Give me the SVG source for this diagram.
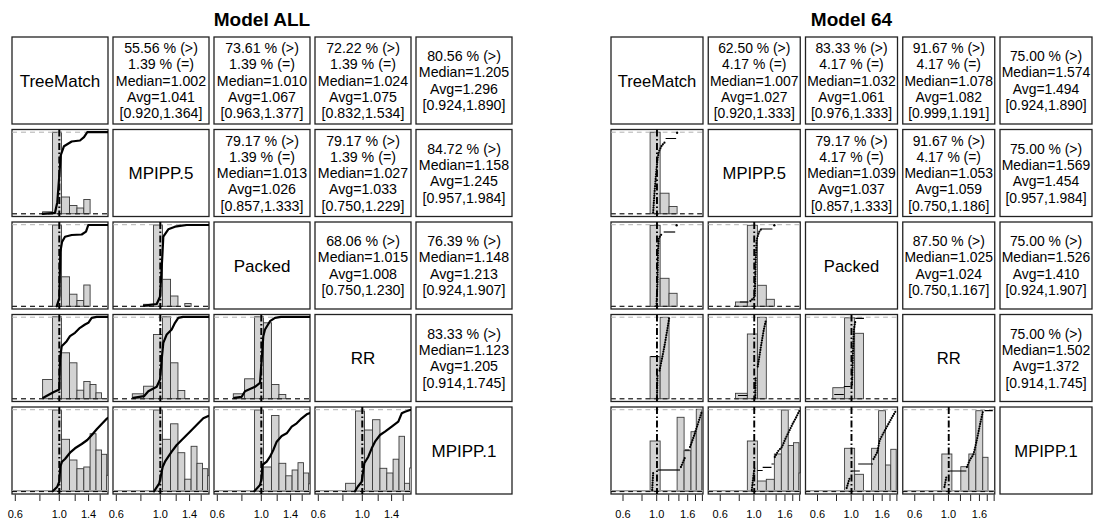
<svg xmlns="http://www.w3.org/2000/svg" width="1112" height="521" viewBox="0 0 1112 521">
<defs>
<clipPath id="cc"><rect x="0" y="0" width="96" height="87"/></clipPath>
</defs>
<style>
text{font-family:"Liberation Sans",Arial,Helvetica,sans-serif;fill:#000}
.title{font-size:19px;font-weight:bold;text-anchor:middle}
.lab{font-size:17px;text-anchor:middle}
.lab2{font-size:16.6px;text-anchor:middle}
.st{font-size:14.2px;text-anchor:middle}
.st2{font-size:13.9px;text-anchor:middle}
.ax{font-size:11px;text-anchor:middle}
.box{fill:#fff;stroke:#222;stroke-width:1.3}
.bar{fill:#d3d3d3;stroke:#3a3a3a;stroke-width:0.9}
.gl{stroke:#b0b0b0;stroke-width:1;stroke-dasharray:5 4;fill:none}
.bl{stroke:#000;stroke-width:1;stroke-dasharray:5 4;fill:none}
.r5{stroke:#999;stroke-width:1.6;fill:none}
.ref{stroke:#000;stroke-width:2;stroke-dasharray:7 2.5 1.5 2.5;fill:none}
.ecdf{fill:none;stroke:#000;stroke-width:2.2;stroke-linejoin:round;stroke-linecap:round}
.dots{fill:none;stroke:#000;stroke-width:2.3;stroke-dasharray:0 2.4;stroke-linecap:round}
.seg{fill:none;stroke:#000;stroke-width:1.2}
.tk{stroke:#222;stroke-width:1}
</style>
<rect width="1112" height="521" fill="#fff"/>
<text class="title" x="262" y="26">Model ALL</text>
<text class="title" x="851.5" y="26">Model 64</text>

<!-- ===== LEFT PANEL ===== -->
<g id="L11" transform="translate(12,37)"><rect class="box" width="96" height="87"/><text class="lab" x="48" y="49.6">TreeMatch</text></g>
<g id="L12" transform="translate(113,37)"><rect class="box" width="96" height="87"/><text class="st" x="48" y="16"><tspan x="48">55.56 % (&gt;)</tspan><tspan x="48" dy="16.3">1.39 % (=)</tspan><tspan x="48" dy="16.3">Median=1.002</tspan><tspan x="48" dy="16.3">Avg=1.041</tspan><tspan x="48" dy="16.3">[0.920,1.364]</tspan></text></g>
<g id="L13" transform="translate(214,37)"><rect class="box" width="96" height="87"/><text class="st" x="48" y="16"><tspan x="48">73.61 % (&gt;)</tspan><tspan x="48" dy="16.3">1.39 % (=)</tspan><tspan x="48" dy="16.3">Median=1.010</tspan><tspan x="48" dy="16.3">Avg=1.067</tspan><tspan x="48" dy="16.3">[0.963,1.377]</tspan></text></g>
<g id="L14" transform="translate(315,37)"><rect class="box" width="96" height="87"/><text class="st" x="48" y="16"><tspan x="48">72.22 % (&gt;)</tspan><tspan x="48" dy="16.3">1.39 % (=)</tspan><tspan x="48" dy="16.3">Median=1.024</tspan><tspan x="48" dy="16.3">Avg=1.075</tspan><tspan x="48" dy="16.3">[0.832,1.534]</tspan></text></g>
<g id="L15" transform="translate(416,37)"><rect class="box" width="96" height="87"/><text class="st" x="48" y="24.1"><tspan x="48">80.56 % (&gt;)</tspan><tspan x="48" dy="16.3">Median=1.205</tspan><tspan x="48" dy="16.3">Avg=1.296</tspan><tspan x="48" dy="16.3">[0.924,1.890]</tspan></text></g>

<g id="L21" transform="translate(12,129.5)"><rect class="box" width="96" height="87"/>
<g clip-path="url(#cc)">
<rect class="bar" x="30.6" y="82.3" width="9.9" height="2"/><rect class="bar" x="40.5" y="2.7" width="8.95" height="81.6"/><rect class="bar" x="49.45" y="67.5" width="8.1" height="16.8"/><rect class="bar" x="57.55" y="76" width="7.4" height="8.3"/><rect class="bar" x="64.95" y="78.5" width="6.85" height="5.8"/><rect class="bar" x="71.8" y="70" width="6.3" height="14.3"/>
<path class="gl" d="M0,2.7H96M0,84.3H96"/><path class="bl" d="M0,84.3H96"/>
<path class="ref" d="M47.3,0V87"/>
<path class="ecdf" d="M30.7,84.3L43,83.3L45.3,72.7L47.3,46L48.7,26L52,16.7L59.7,12L68,11L72,7.7L75.3,2.7L96,2.7"/>
</g></g>
<g id="L22" transform="translate(113,129.5)"><rect class="box" width="96" height="87"/><text class="lab" x="48" y="49.6">MPIPP.5</text></g>
<g id="L23" transform="translate(214,129.5)"><rect class="box" width="96" height="87"/><text class="st" x="48" y="16"><tspan x="48">79.17 % (&gt;)</tspan><tspan x="48" dy="16.3">1.39 % (=)</tspan><tspan x="48" dy="16.3">Median=1.013</tspan><tspan x="48" dy="16.3">Avg=1.026</tspan><tspan x="48" dy="16.3">[0.857,1.333]</tspan></text></g>
<g id="L24" transform="translate(315,129.5)"><rect class="box" width="96" height="87"/><text class="st" x="48" y="16"><tspan x="48">79.17 % (&gt;)</tspan><tspan x="48" dy="16.3">1.39 % (=)</tspan><tspan x="48" dy="16.3">Median=1.027</tspan><tspan x="48" dy="16.3">Avg=1.033</tspan><tspan x="48" dy="16.3">[0.750,1.229]</tspan></text></g>
<g id="L25" transform="translate(416,129.5)"><rect class="box" width="96" height="87"/><text class="st" x="48" y="24.1"><tspan x="48">84.72 % (&gt;)</tspan><tspan x="48" dy="16.3">Median=1.158</tspan><tspan x="48" dy="16.3">Avg=1.245</tspan><tspan x="48" dy="16.3">[0.957,1.984]</tspan></text></g>

<g id="L31" transform="translate(12,222)"><rect class="box" width="96" height="87"/>
<g clip-path="url(#cc)">
<rect class="bar" x="40.5" y="3" width="8.95" height="81.3"/><rect class="bar" x="49.45" y="54.8" width="8.1" height="29.5"/><rect class="bar" x="57.55" y="72.2" width="7.4" height="12.1"/><rect class="bar" x="64.95" y="78.5" width="6.85" height="5.8"/><rect class="bar" x="71.8" y="63" width="6.3" height="21.3"/>
<path class="gl" d="M0,2.7H96M0,84.3H96"/><path class="bl" d="M0,84.3H96"/>
<path class="ref" d="M47.3,0V87"/>
<path class="ecdf" d="M44.7,84.3L47.3,76L48.3,30L50,20L53,14.7L59.7,13L69.7,12.5L74,9.7L76.3,3L96,3"/>
</g></g>
<g id="L32" transform="translate(113,222)"><rect class="box" width="96" height="87"/>
<g clip-path="url(#cc)">
<rect class="bar" x="30.6" y="82.3" width="9.9" height="2"/><rect class="bar" x="40.5" y="3" width="8.95" height="81.3"/><rect class="bar" x="49.45" y="57.3" width="8.1" height="27"/><rect class="bar" x="57.55" y="74" width="7.4" height="10.3"/><rect class="bar" x="71.8" y="81.5" width="6.3" height="2.8"/>
<path class="gl" d="M0,2.7H96M0,84.3H96"/><path class="bl" d="M0,84.3H96"/>
<path class="ref" d="M47.3,0V87"/>
<path class="ecdf" d="M31,83.7L43.7,82L47,74.7L49.3,34.7L50.3,14.7L55.3,7.3L62,4.7L68.7,3.7L73.7,3L96,3"/>
</g></g>
<g id="L33" transform="translate(214,222)"><rect class="box" width="96" height="87"/><text class="lab" x="48" y="49.6">Packed</text></g>
<g id="L34" transform="translate(315,222)"><rect class="box" width="96" height="87"/><text class="st" x="48" y="24.1"><tspan x="48">68.06 % (&gt;)</tspan><tspan x="48" dy="16.3">Median=1.015</tspan><tspan x="48" dy="16.3">Avg=1.008</tspan><tspan x="48" dy="16.3">[0.750,1.230]</tspan></text></g>
<g id="L35" transform="translate(416,222)"><rect class="box" width="96" height="87"/><text class="st" x="48" y="24.1"><tspan x="48">76.39 % (&gt;)</tspan><tspan x="48" dy="16.3">Median=1.148</tspan><tspan x="48" dy="16.3">Avg=1.213</tspan><tspan x="48" dy="16.3">[0.924,1.907]</tspan></text></g>

<g id="L41" transform="translate(12,314.5)"><rect class="box" width="96" height="87"/>
<g clip-path="url(#cc)">
<rect class="bar" x="30.6" y="65" width="9.9" height="19.3"/><rect class="bar" x="40.5" y="2.3" width="8.95" height="82"/><rect class="bar" x="49.45" y="38.3" width="8.1" height="46"/><rect class="bar" x="57.55" y="48.3" width="7.4" height="36"/><rect class="bar" x="64.95" y="75.7" width="6.85" height="8.6"/><rect class="bar" x="71.8" y="67" width="6.3" height="17.3"/><rect class="bar" x="78.1" y="70" width="5.9" height="14.3"/><rect class="bar" x="84" y="78.3" width="5.5" height="6"/>
<path class="gl" d="M0,2.7H96M0,84.3H96"/><path class="bl" d="M0,84.3H96"/>
<path class="ref" d="M47.3,0V87"/>
<path class="ecdf" d="M31.3,83.3L41.3,77.7L47.3,75L48,45L49.7,31.7L54.7,26.7L58,21.7L63,18.3L68,13.3L73,10L76.3,8.3L79.7,3.3L84.7,2.3L96,2.3"/>
</g></g>
<g id="L42" transform="translate(113,314.5)"><rect class="box" width="96" height="87"/>
<g clip-path="url(#cc)">
<rect class="bar" x="19.3" y="79.3" width="11.3" height="5"/><rect class="bar" x="30.6" y="71.7" width="9.9" height="12.6"/><rect class="bar" x="40.5" y="20" width="8.95" height="64.3"/><rect class="bar" x="49.45" y="2.3" width="8.1" height="82"/><rect class="bar" x="57.55" y="48.3" width="7.4" height="36"/><rect class="bar" x="64.95" y="76" width="6.85" height="8.3"/>
<path class="gl" d="M0,2.7H96M0,84.3H96"/><path class="bl" d="M0,84.3H96"/>
<path class="ref" d="M47.3,0V87"/>
<path class="ecdf" d="M20.3,83.3L31,81.7L35.3,76.7L43.7,72.3L47,65L48.7,45L50.3,28.3L53.7,20L58.7,15L62,8.3L65.3,3.3L70,2.3L96,2.3"/>
</g></g>
<g id="L43" transform="translate(214,314.5)"><rect class="box" width="96" height="87"/>
<g clip-path="url(#cc)">
<rect class="bar" x="19.3" y="79.3" width="11.3" height="5"/><rect class="bar" x="30.6" y="64.3" width="9.9" height="20"/><rect class="bar" x="40.5" y="2.3" width="8.95" height="82"/><rect class="bar" x="49.45" y="8.3" width="8.1" height="76"/><rect class="bar" x="57.55" y="70" width="7.4" height="14.3"/><rect class="bar" x="64.95" y="80" width="6.85" height="4.3"/>
<path class="gl" d="M0,2.7H96M0,84.3H96"/><path class="bl" d="M0,84.3H96"/>
<path class="ref" d="M47.3,0V87"/>
<path class="ecdf" d="M20.3,83.3L27.7,82.3L31,76.7L41,72.3L46,68.3L47.7,45L49.3,21.7L51,15L56,6.7L61,3.3L67,2.3L96,2.3"/>
</g></g>
<g id="L44" transform="translate(315,314.5)"><rect class="box" width="96" height="87"/><text class="lab" x="48" y="49.6">RR</text></g>
<g id="L45" transform="translate(416,314.5)"><rect class="box" width="96" height="87"/><text class="st" x="48" y="24.1"><tspan x="48">83.33 % (&gt;)</tspan><tspan x="48" dy="16.3">Median=1.123</tspan><tspan x="48" dy="16.3">Avg=1.205</tspan><tspan x="48" dy="16.3">[0.914,1.745]</tspan></text></g>

<g id="L51" transform="translate(12,407)"><rect class="box" width="96" height="87"/>
<g clip-path="url(#cc)">
<rect class="bar" x="40.5" y="3" width="8.95" height="81.3"/><rect class="bar" x="49.45" y="32.3" width="8.1" height="52"/><rect class="bar" x="57.55" y="53" width="7.4" height="31.3"/><rect class="bar" x="64.95" y="61.7" width="6.85" height="22.6"/><rect class="bar" x="71.8" y="60" width="6.3" height="24.3"/><rect class="bar" x="78.1" y="26.7" width="5.9" height="57.6"/><rect class="bar" x="84" y="43" width="5.5" height="41.3"/><rect class="bar" x="89.5" y="47.3" width="5.2" height="37"/><rect class="bar" x="94.7" y="68.3" width="4.9" height="16"/>
<path class="gl" d="M0,2.7H96"/><path class="r5" d="M0,83.8H96"/><path class="bl" d="M0,84.6H96"/>
<path class="ref" d="M47.3,0V87"/>
<path class="ecdf" d="M40.7,84.3L45.3,79.7L47.3,74.7L48.3,59.7L50,54.7L53,52L58,45.7L63,41.3L69.7,37L75.3,33L80.7,27L84.7,22.3L89.7,17L94.7,11.7L96,11"/>
</g></g>
<g id="L52" transform="translate(113,407)"><rect class="box" width="96" height="87"/>
<g clip-path="url(#cc)">
<rect class="bar" x="40.5" y="3" width="8.95" height="81.3"/><rect class="bar" x="49.45" y="32.3" width="8.1" height="52"/><rect class="bar" x="57.55" y="16.8" width="7.4" height="67.5"/><rect class="bar" x="64.95" y="45.7" width="6.85" height="38.6"/><rect class="bar" x="71.8" y="72.2" width="6.3" height="12.1"/><rect class="bar" x="78.1" y="39.3" width="5.9" height="45"/><rect class="bar" x="84" y="56.3" width="5.5" height="28"/><rect class="bar" x="89.5" y="61.7" width="5.2" height="22.6"/><rect class="bar" x="94.7" y="68.7" width="4.9" height="15.6"/>
<path class="gl" d="M0,2.7H96"/><path class="r5" d="M0,83.8H96"/><path class="bl" d="M0,84.6H96"/>
<path class="ref" d="M47.3,0V87"/>
<path class="ecdf" d="M41,84.3L46.3,76.3L47.7,69.7L49.7,59.7L52,54.7L55.3,49.7L58.7,44.7L63.7,38L68.7,33L73.7,28L78.7,23L85.3,16.3L90.3,11.3L95.3,9L96,8.8"/>
</g></g>
<g id="L53" transform="translate(214,407)"><rect class="box" width="96" height="87"/>
<g clip-path="url(#cc)">
<rect class="bar" x="40.5" y="3" width="8.95" height="81.3"/><rect class="bar" x="49.45" y="60" width="8.1" height="24.3"/><rect class="bar" x="57.55" y="8.5" width="7.4" height="75.8"/><rect class="bar" x="64.95" y="56.3" width="6.85" height="28"/><rect class="bar" x="71.8" y="68.8" width="6.3" height="15.5"/><rect class="bar" x="78.1" y="63" width="5.9" height="21.3"/><rect class="bar" x="84" y="55.7" width="5.5" height="28.6"/><rect class="bar" x="89.5" y="66" width="5.2" height="18.3"/><rect class="bar" x="94.7" y="76.8" width="4.9" height="7.5"/>
<path class="gl" d="M0,2.7H96"/><path class="r5" d="M0,83.8H96"/><path class="bl" d="M0,84.6H96"/>
<path class="ref" d="M47.3,0V87"/>
<path class="ecdf" d="M40.3,84.3L46,78L47.7,71.3L48.3,58L52.7,54.7L56,49.7L59.3,43L62.7,34.7L67.7,29L72.7,26.3L77.7,19.7L82.7,16.3L87.7,11.3L92.7,7.3L96,6"/>
</g></g>
<g id="L54" transform="translate(315,407)"><rect class="box" width="96" height="87"/>
<g clip-path="url(#cc)">
<rect class="bar" x="30.6" y="76.3" width="9.9" height="8"/><rect class="bar" x="40.5" y="4" width="8.95" height="80.3"/><rect class="bar" x="49.45" y="23" width="8.1" height="61.3"/><rect class="bar" x="57.55" y="12.7" width="7.4" height="71.6"/><rect class="bar" x="64.95" y="61.3" width="6.85" height="23"/><rect class="bar" x="71.8" y="66" width="6.3" height="18.3"/><rect class="bar" x="78.1" y="52.2" width="5.9" height="32.1"/><rect class="bar" x="84" y="29.3" width="5.5" height="55"/><rect class="bar" x="89.5" y="76.3" width="5.2" height="8"/><rect class="bar" x="94.7" y="61" width="4.9" height="23.3"/>
<path class="gl" d="M0,2.7H96"/><path class="r5" d="M0,83.8H96"/><path class="bl" d="M0,84.6H96"/>
<path class="ref" d="M47.3,0V87"/>
<path class="ecdf" d="M40,84.3L42.7,79.7L46.7,74.7L49.3,56.3L53.3,49.7L56.7,41.3L60,34.7L65,28L70,24.7L76.7,19.7L83.3,14.7L86.7,6.3L90,4.7L95,3L96,3"/>
</g></g>
<g id="L55" transform="translate(416,407)"><rect class="box" width="96" height="87"/><text class="lab" x="48" y="49.6">MPIPP.1</text></g>

<!-- ===== RIGHT PANEL ===== -->
<g id="R11" transform="translate(611,37)"><rect class="box" width="92" height="87"/><text class="lab2" x="46" y="49.6">TreeMatch</text></g>
<g id="R12" transform="translate(708.25,37)"><rect class="box" width="92" height="87"/><text class="st2" x="46" y="16"><tspan x="46">62.50 % (&gt;)</tspan><tspan x="46" dy="16.3">4.17 % (=)</tspan><tspan x="46" dy="16.3">Median=1.007</tspan><tspan x="46" dy="16.3">Avg=1.027</tspan><tspan x="46" dy="16.3">[0.920,1.333]</tspan></text></g>
<g id="R13" transform="translate(805.5,37)"><rect class="box" width="92" height="87"/><text class="st2" x="46" y="16"><tspan x="46">83.33 % (&gt;)</tspan><tspan x="46" dy="16.3">4.17 % (=)</tspan><tspan x="46" dy="16.3">Median=1.032</tspan><tspan x="46" dy="16.3">Avg=1.061</tspan><tspan x="46" dy="16.3">[0.976,1.333]</tspan></text></g>
<g id="R14" transform="translate(902.75,37)"><rect class="box" width="92" height="87"/><text class="st2" x="46" y="16"><tspan x="46">91.67 % (&gt;)</tspan><tspan x="46" dy="16.3">4.17 % (=)</tspan><tspan x="46" dy="16.3">Median=1.078</tspan><tspan x="46" dy="16.3">Avg=1.082</tspan><tspan x="46" dy="16.3">[0.999,1.191]</tspan></text></g>
<g id="R15" transform="translate(1000,37)"><rect class="box" width="92" height="87"/><text class="st2" x="46" y="24.1"><tspan x="46">75.00 % (&gt;)</tspan><tspan x="46" dy="16.3">Median=1.574</tspan><tspan x="46" dy="16.3">Avg=1.494</tspan><tspan x="46" dy="16.3">[0.924,1.890]</tspan></text></g>

<g id="R21" transform="translate(611,129.5)"><rect class="box" width="92" height="87"/>
<g transform="scale(0.958,1)"><g clip-path="url(#cc)">
<rect class="bar" x="40.8" y="2.7" width="10.5" height="81.6"/><rect class="bar" x="51.3" y="63.7" width="9.3" height="20.6"/><rect class="bar" x="60.6" y="77" width="8.4" height="7.3"/>
<path class="gl" d="M0,2.7H96M0,84.3H96"/><path class="bl" d="M0,84.3H96"/>
<path class="ref" d="M48,0V87"/>
<path class="dots" d="M44,83L45.5,62L47,45L48.5,30L50,22L53,16L57,12"/><path class="seg" d="M57,9H68"/><circle cx="69" cy="3.3" r="1.2"/>
</g></g></g>
<g id="R22" transform="translate(708.25,129.5)"><rect class="box" width="92" height="87"/><text class="lab2" x="46" y="49.6">MPIPP.5</text></g>
<g id="R23" transform="translate(805.5,129.5)"><rect class="box" width="92" height="87"/><text class="st2" x="46" y="16"><tspan x="46">79.17 % (&gt;)</tspan><tspan x="46" dy="16.3">4.17 % (=)</tspan><tspan x="46" dy="16.3">Median=1.039</tspan><tspan x="46" dy="16.3">Avg=1.037</tspan><tspan x="46" dy="16.3">[0.857,1.333]</tspan></text></g>
<g id="R24" transform="translate(902.75,129.5)"><rect class="box" width="92" height="87"/><text class="st2" x="46" y="16"><tspan x="46">91.67 % (&gt;)</tspan><tspan x="46" dy="16.3">4.17 % (=)</tspan><tspan x="46" dy="16.3">Median=1.053</tspan><tspan x="46" dy="16.3">Avg=1.059</tspan><tspan x="46" dy="16.3">[0.750,1.186]</tspan></text></g>
<g id="R25" transform="translate(1000,129.5)"><rect class="box" width="92" height="87"/><text class="st2" x="46" y="24.1"><tspan x="46">75.00 % (&gt;)</tspan><tspan x="46" dy="16.3">Median=1.569</tspan><tspan x="46" dy="16.3">Avg=1.454</tspan><tspan x="46" dy="16.3">[0.957,1.984]</tspan></text></g>

<g id="R31" transform="translate(611,222)"><rect class="box" width="92" height="87"/>
<g transform="scale(0.958,1)"><g clip-path="url(#cc)">
<rect class="bar" x="40.8" y="3.3" width="10.5" height="81"/><rect class="bar" x="51.3" y="56.3" width="9.3" height="28"/><rect class="bar" x="60.6" y="71.3" width="8.4" height="13"/>
<path class="gl" d="M0,2.7H96M0,84.3H96"/><path class="bl" d="M0,84.3H96"/>
<path class="ref" d="M48,0V87"/>
<path class="dots" d="M47.5,84L48.5,60L49,30L50,16L53,12"/><path class="seg" d="M55,10H67"/><circle cx="68.5" cy="3.3" r="1.2"/>
</g></g></g>
<g id="R32" transform="translate(708.25,222)"><rect class="box" width="92" height="87"/>
<g transform="scale(0.958,1)"><g clip-path="url(#cc)">
<rect class="bar" x="28.5" y="80" width="12.3" height="4.3"/><rect class="bar" x="40.8" y="3.3" width="10.5" height="81"/><rect class="bar" x="51.3" y="63.3" width="9.3" height="21"/><rect class="bar" x="60.6" y="77.3" width="8.4" height="7"/>
<path class="gl" d="M0,2.7H96M0,84.3H96"/><path class="bl" d="M0,84.3H96"/>
<path class="ref" d="M48,0V87"/>
<path class="seg" d="M33,80H42"/><path class="dots" d="M44,79L48.5,75L49.5,40L50.5,18L53,10L55,7.5"/><path class="seg" d="M55,7H67"/><circle cx="69" cy="3.3" r="1.2"/>
</g></g></g>
<g id="R33" transform="translate(805.5,222)"><rect class="box" width="92" height="87"/><text class="lab2" x="46" y="49.6">Packed</text></g>
<g id="R34" transform="translate(902.75,222)"><rect class="box" width="92" height="87"/><text class="st2" x="46" y="24.1"><tspan x="46">87.50 % (&gt;)</tspan><tspan x="46" dy="16.3">Median=1.025</tspan><tspan x="46" dy="16.3">Avg=1.024</tspan><tspan x="46" dy="16.3">[0.750,1.167]</tspan></text></g>
<g id="R35" transform="translate(1000,222)"><rect class="box" width="92" height="87"/><text class="st2" x="46" y="24.1"><tspan x="46">75.00 % (&gt;)</tspan><tspan x="46" dy="16.3">Median=1.526</tspan><tspan x="46" dy="16.3">Avg=1.410</tspan><tspan x="46" dy="16.3">[0.924,1.907]</tspan></text></g>

<g id="R41" transform="translate(611,314.5)"><rect class="box" width="92" height="87"/>
<g transform="scale(0.958,1)"><g clip-path="url(#cc)">
<rect class="bar" x="40.8" y="42.2" width="10.5" height="42.1"/><rect class="bar" x="51.3" y="2.8" width="9.3" height="81.5"/>
<path class="gl" d="M0,2.7H96M0,84.3H96"/><path class="bl" d="M0,84.3H96"/>
<path class="ref" d="M48,0V87"/>
<path class="dots" d="M48,83L48.5,60"/><path class="seg" d="M41.3,42H49.7"/><path class="dots" d="M50.7,56L53.7,42L56.3,29L58.7,15.5L60.7,3.8"/>
</g></g></g>
<g id="R42" transform="translate(708.25,314.5)"><rect class="box" width="92" height="87"/>
<g transform="scale(0.958,1)"><g clip-path="url(#cc)">
<rect class="bar" x="28.5" y="78.8" width="12.3" height="5.5"/><rect class="bar" x="40.8" y="19.5" width="10.5" height="64.8"/><rect class="bar" x="51.3" y="2.8" width="9.3" height="81.5"/>
<path class="gl" d="M0,2.7H96M0,84.3H96"/><path class="bl" d="M0,84.3H96"/>
<path class="ref" d="M48,0V87"/>
<path class="seg" d="M31,81H41"/><path class="dots" d="M49,83L49.5,62"/><path class="dots" d="M51.7,52L55,32L58,15L60.3,5.5"/>
</g></g></g>
<g id="R43" transform="translate(805.5,314.5)"><rect class="box" width="92" height="87"/>
<g transform="scale(0.958,1)"><g clip-path="url(#cc)">
<rect class="bar" x="28.5" y="73.2" width="12.3" height="11.1"/><rect class="bar" x="40.8" y="3.3" width="10.5" height="81"/><rect class="bar" x="51.3" y="18.8" width="9.3" height="65.5"/>
<path class="gl" d="M0,2.7H96M0,84.3H96"/><path class="bl" d="M0,84.3H96"/>
<path class="ref" d="M48,0V87"/>
<path class="seg" d="M30,80H40M40,72H47"/><path class="dots" d="M48.5,70L49.5,40L50.5,15L52,7"/><path class="seg" d="M52,3.8H61"/>
</g></g></g>
<g id="R44" transform="translate(902.75,314.5)"><rect class="box" width="92" height="87"/><text class="lab2" x="46" y="49.6">RR</text></g>
<g id="R45" transform="translate(1000,314.5)"><rect class="box" width="92" height="87"/><text class="st2" x="46" y="24.1"><tspan x="46">75.00 % (&gt;)</tspan><tspan x="46" dy="16.3">Median=1.502</tspan><tspan x="46" dy="16.3">Avg=1.372</tspan><tspan x="46" dy="16.3">[0.914,1.745]</tspan></text></g>

<g id="R51" transform="translate(611,407)"><rect class="box" width="92" height="87"/>
<g transform="scale(0.958,1)"><g clip-path="url(#cc)">
<rect class="bar" x="40.8" y="34" width="10.5" height="50.3"/><rect class="bar" x="69" y="10.3" width="7.3" height="74"/><rect class="bar" x="76.3" y="43.7" width="7.2" height="40.6"/><rect class="bar" x="83.5" y="24.7" width="5.5" height="59.6"/><rect class="bar" x="89" y="2.3" width="5.7" height="82"/>
<path class="gl" d="M0,2.7H96"/><path class="r5" d="M0,83.8H96"/><path class="bl" d="M0,84.6H96"/>
<path class="ref" d="M48,0V87"/>
<path class="dots" d="M43,83L44,66"/><path class="seg" d="M48.5,63H72"/><path class="dots" d="M73,60L77,51"/><path class="seg" d="M77,43H82"/><path class="dots" d="M82.5,40L87,28L91,16L95,4"/>
</g></g></g>
<g id="R52" transform="translate(708.25,407)"><rect class="box" width="92" height="87"/>
<g transform="scale(0.958,1)"><g clip-path="url(#cc)">
<rect class="bar" x="40.8" y="34" width="10.5" height="50.3"/><rect class="bar" x="51.3" y="74" width="9.3" height="10.3"/><rect class="bar" x="60.6" y="72.3" width="8.4" height="12"/><rect class="bar" x="69" y="47" width="7.3" height="37.3"/><rect class="bar" x="76.3" y="3" width="7.2" height="81.3"/><rect class="bar" x="83.5" y="38.5" width="5.5" height="45.8"/><rect class="bar" x="89" y="35.7" width="5.7" height="48.6"/><rect class="bar" x="94.7" y="66" width="5.3" height="18.3"/>
<path class="gl" d="M0,2.7H96"/><path class="r5" d="M0,83.8H96"/><path class="bl" d="M0,84.6H96"/>
<path class="ref" d="M48,0V87"/>
<path class="dots" d="M45.5,83L47,70L48.5,60"/><path class="seg" d="M51.3,63.5H56.8M56.8,60.3H66M66,57H68.5"/><path class="dots" d="M69.5,50L73,44L77,40L80,33L84,25L88,17L92,10L95.5,3"/>
</g></g></g>
<g id="R53" transform="translate(805.5,407)"><rect class="box" width="92" height="87"/>
<g transform="scale(0.958,1)"><g clip-path="url(#cc)">
<rect class="bar" x="40.8" y="41.3" width="10.5" height="43"/><rect class="bar" x="51.3" y="67.3" width="9.3" height="17"/><rect class="bar" x="69" y="41.3" width="7.3" height="43"/><rect class="bar" x="76.3" y="3.7" width="7.2" height="80.6"/><rect class="bar" x="83.5" y="58" width="5.5" height="26.3"/><rect class="bar" x="89" y="42.3" width="5.7" height="42"/>
<path class="gl" d="M0,2.7H96"/><path class="r5" d="M0,83.8H96"/><path class="bl" d="M0,84.6H96"/>
<path class="ref" d="M48,0V87"/>
<path class="dots" d="M43,81L46.4,70"/><path class="seg" d="M48,64H56.7M55,57H70.5"/><path class="dots" d="M71,52L75,45L77.5,33L82,25L86,18L90,11L94.8,3"/>
</g></g></g>
<g id="R54" transform="translate(902.75,407)"><rect class="box" width="92" height="87"/>
<g transform="scale(0.958,1)"><g clip-path="url(#cc)">
<rect class="bar" x="40.8" y="47" width="10.5" height="37.3"/><rect class="bar" x="60.6" y="59.7" width="8.4" height="24.6"/><rect class="bar" x="69" y="47" width="7.3" height="37.3"/><rect class="bar" x="76.3" y="3.7" width="7.2" height="80.6"/><rect class="bar" x="83.5" y="50.3" width="5.5" height="34"/>
<path class="gl" d="M0,2.7H96"/><path class="r5" d="M0,83.8H96"/><path class="bl" d="M0,84.6H96"/>
<path class="ref" d="M48,0V87"/>
<path class="dots" d="M43.5,80L45.5,70"/><path class="seg" d="M49,64H66.4"/><path class="dots" d="M67,60L70,53L73.5,48L75,43L78,30L81,16L83.6,4.7"/><path class="seg" d="M85.3,3.7H94"/>
</g></g></g>
<g id="R55" transform="translate(1000,407)"><rect class="box" width="92" height="87"/><text class="lab2" x="46" y="49.6">MPIPP.1</text></g>

<!-- ===== AXES ===== -->
<g id="axisL">
<path class="tk" d="M15.3,494.5V501M39.9,494.5V501M59.3,494.5V501M75.2,494.5V501M88.6,494.5V501M100.2,494.5V501
M116.3,494.5V501M140.9,494.5V501M160.3,494.5V501M176.2,494.5V501M189.6,494.5V501M201.2,494.5V501
M217.3,494.5V501M241.9,494.5V501M261.3,494.5V501M277.2,494.5V501M290.6,494.5V501M302.2,494.5V501
M318.3,494.5V501M342.9,494.5V501M362.3,494.5V501M378.2,494.5V501M391.6,494.5V501M403.2,494.5V501"/>
<text class="ax" x="15.3" y="518">0.6</text><text class="ax" x="59.3" y="518">1.0</text><text class="ax" x="88.6" y="518">1.4</text>
<text class="ax" x="116.3" y="518">0.6</text><text class="ax" x="160.3" y="518">1.0</text><text class="ax" x="189.6" y="518">1.4</text>
<text class="ax" x="217.3" y="518">0.6</text><text class="ax" x="261.3" y="518">1.0</text><text class="ax" x="290.6" y="518">1.4</text>
<text class="ax" x="318.3" y="518">0.6</text><text class="ax" x="362.3" y="518">1.0</text><text class="ax" x="391.6" y="518">1.4</text>
</g>
<g id="axisR">
<path class="tk" d="M623,494.5V501M642,494.5V501M656.7,494.5V501M668.7,494.5V501M678.9,494.5V501M687.7,494.5V501M695.5,494.5V501M702.4,494.5V501
M720.25,494.5V501M739.25,494.5V501M753.95,494.5V501M765.95,494.5V501M776.15,494.5V501M784.95,494.5V501M792.75,494.5V501M799.65,494.5V501
M817.5,494.5V501M836.5,494.5V501M851.2,494.5V501M863.2,494.5V501M873.4,494.5V501M882.2,494.5V501M890,494.5V501M896.9,494.5V501
M914.75,494.5V501M933.75,494.5V501M948.45,494.5V501M960.45,494.5V501M970.65,494.5V501M979.45,494.5V501M987.25,494.5V501M994.15,494.5V501"/>
<text class="ax" x="623" y="518">0.6</text><text class="ax" x="656.7" y="518">1.0</text><text class="ax" x="687.7" y="518">1.6</text>
<text class="ax" x="720.25" y="518">0.6</text><text class="ax" x="753.95" y="518">1.0</text><text class="ax" x="784.95" y="518">1.6</text>
<text class="ax" x="817.5" y="518">0.6</text><text class="ax" x="851.2" y="518">1.0</text><text class="ax" x="882.2" y="518">1.6</text>
<text class="ax" x="914.75" y="518">0.6</text><text class="ax" x="948.45" y="518">1.0</text><text class="ax" x="979.45" y="518">1.6</text>
</g>
</svg>
